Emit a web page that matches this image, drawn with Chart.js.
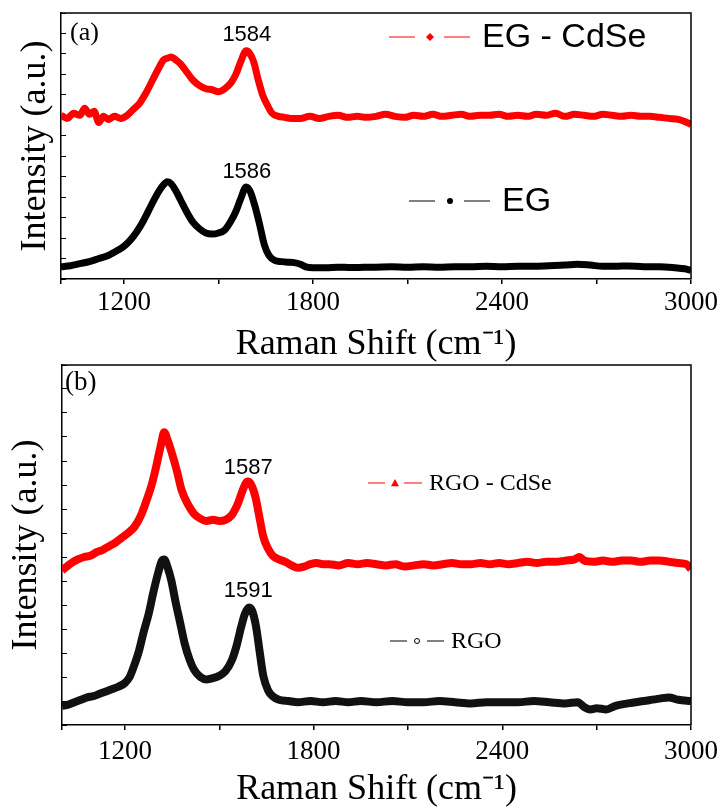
<!DOCTYPE html>
<html>
<head>
<meta charset="utf-8">
<script src="https://cdn.jsdelivr.net/npm/chart.js@4.4.0/dist/chart.umd.min.js"></script>
<style>
  html, body { margin: 0; padding: 0; background: #fff; }
  #wrap { position: relative; width: 726px; height: 808px; overflow: hidden; background: #fff; }
  #chartA { position: absolute; left: 0; top: 0; }
  #chartB { position: absolute; left: 0; top: 360px; }
</style>
</head>
<body>
<div id="wrap">
  <canvas id="chartA" width="726" height="370" style="width:726px;height:370px"></canvas>
  <canvas id="chartB" width="726" height="448" style="width:726px;height:448px"></canvas>
</div>
<script>
// x axis (Raman shift, cm-1)
var shiftTicks = [1000, 1200, 1500, 1800, 2100, 2400, 2700, 3000];
var shiftLabels = [1200, 1800, 2400, 3000];

// panel (a): EG - CdSe
var egCdseShift = [1000,1020,1040,1060,1075,1090,1105,1120,1135,1150,1170,1190,1210,1230,1250,1270,1290,1310,1325,1340,1350,1365,1380,1400,1420,1440,1460,1480,1500,1520,1540,1555,1570,1588,1598,1612,1625,1640,1655,1670,1690,1710,1730,1760,1790,1820,1850,1880,1910,1940,1970,2000,2030,2060,2090,2120,2150,2180,2210,2240,2270,2300,2330,2360,2390,2420,2450,2480,2510,2540,2570,2600,2630,2660,2690,2720,2750,2780,2810,2840,2870,2900,2930,2960,2980,3000];
var egCdseIntensity = [8.0,7.85,8.1,8.0,8.35,8.05,8.2,7.65,7.95,7.8,7.95,7.85,8.0,8.3,8.6,9.1,9.7,10.3,10.7,10.8,10.85,10.7,10.5,10.1,9.7,9.45,9.3,9.25,9.15,9.3,9.6,10.0,10.6,11.15,11.05,10.6,9.8,9.0,8.5,8.1,7.95,7.9,7.85,7.85,7.95,7.85,7.95,8.0,7.9,7.95,7.9,7.95,8.05,7.95,7.9,8.0,7.95,8.05,7.95,8.0,8.05,7.95,8.0,8.0,8.05,7.95,8.0,7.95,8.05,8.0,8.1,7.95,8.05,8.0,7.95,8.05,8.0,7.95,8.0,7.95,7.95,7.9,7.85,7.8,7.7,7.55];

// panel (a): EG
var egShift = [1000,1030,1060,1090,1120,1150,1180,1200,1220,1240,1260,1280,1300,1320,1338,1350,1365,1380,1400,1420,1440,1460,1480,1500,1520,1540,1555,1570,1588,1600,1615,1630,1645,1660,1680,1700,1720,1740,1760,1780,1800,1840,1880,1920,1960,2000,2050,2100,2150,2200,2250,2300,2350,2400,2450,2500,2550,2600,2640,2680,2720,2760,2800,2850,2900,2950,2980,3000];
var egIntensity = [0.6,0.65,0.75,0.85,1.0,1.15,1.4,1.6,1.9,2.3,2.8,3.4,4.0,4.5,4.75,4.65,4.3,3.85,3.25,2.75,2.45,2.25,2.2,2.25,2.4,2.85,3.3,3.9,4.5,4.3,3.6,2.7,1.7,1.15,0.9,0.85,0.82,0.8,0.72,0.58,0.55,0.55,0.58,0.56,0.57,0.58,0.6,0.58,0.6,0.58,0.6,0.6,0.62,0.6,0.62,0.62,0.65,0.68,0.72,0.68,0.62,0.62,0.64,0.6,0.6,0.55,0.5,0.42];

// panel (b): RGO - CdSe
var rgoCdseShift = [1000,1015,1030,1050,1070,1090,1110,1130,1150,1170,1190,1210,1230,1250,1270,1285,1300,1315,1325,1335,1350,1365,1380,1400,1420,1440,1460,1480,1500,1520,1540,1560,1575,1590,1600,1615,1630,1640,1655,1670,1690,1710,1730,1750,1770,1790,1810,1830,1850,1880,1910,1940,1970,2000,2030,2060,2090,2120,2150,2180,2210,2240,2270,2300,2330,2360,2390,2420,2450,2480,2510,2540,2570,2600,2630,2645,2660,2690,2720,2750,2780,2810,2840,2870,2900,2930,2960,2985,3000];
var rgoCdseIntensity = [6.45,6.6,6.75,6.9,7.0,7.05,7.2,7.3,7.45,7.6,7.8,8.0,8.25,8.7,9.4,10.0,10.8,11.7,12.2,11.9,11.3,10.6,9.8,9.2,8.8,8.6,8.5,8.55,8.5,8.55,8.75,9.25,9.8,10.15,10.05,9.5,8.5,7.85,7.35,7.05,6.9,6.8,6.65,6.55,6.6,6.7,6.75,6.7,6.7,6.65,6.75,6.7,6.75,6.7,6.65,6.7,6.6,6.65,6.7,6.65,6.7,6.75,6.7,6.7,6.75,6.7,6.75,6.7,6.75,6.8,6.75,6.8,6.8,6.85,6.9,7.0,6.85,6.8,6.85,6.8,6.85,6.85,6.8,6.85,6.85,6.8,6.75,6.7,6.5];

// panel (b): RGO
var rgoShift = [1000,1020,1040,1060,1080,1100,1120,1140,1160,1180,1200,1215,1230,1245,1260,1275,1290,1305,1318,1325,1335,1348,1360,1375,1390,1405,1420,1440,1460,1480,1500,1520,1540,1555,1570,1582,1595,1605,1617,1628,1640,1655,1670,1690,1720,1750,1790,1830,1870,1910,1950,2000,2050,2100,2150,2200,2250,2300,2350,2400,2450,2500,2550,2600,2640,2660,2680,2700,2730,2760,2800,2850,2900,2930,2960,3000];
var rgoIntensity = [0.8,0.85,0.95,1.05,1.15,1.2,1.3,1.4,1.5,1.6,1.75,2.0,2.5,3.1,3.9,4.6,5.5,6.3,6.85,6.9,6.6,6.0,5.2,4.3,3.4,2.75,2.3,2.0,1.9,1.95,2.05,2.25,2.7,3.3,4.1,4.65,4.9,4.75,4.1,3.1,2.05,1.45,1.2,1.05,1.0,0.95,1.0,0.95,1.0,0.95,1.0,0.95,1.0,0.95,0.95,1.0,0.95,0.9,0.95,0.95,0.95,1.0,0.95,0.9,0.95,0.75,0.65,0.7,0.65,0.8,0.9,1.0,1.1,1.15,1.05,1.0];

function toPoints(xs, ys) {
  return xs.map(function (x, i) { return { x: x, y: ys[i] }; });
}

var serif = '"Liberation Serif", "Times New Roman", serif';
var sans = '"Liberation Sans", Arial, sans-serif';

// frame, panel tag, peak labels and the hand-placed legend
var panelDecor = {
  id: 'panelDecor',
  afterDraw: function (chart, args, opts) {
    var ctx = chart.ctx, area = chart.chartArea;
    var xs = chart.scales.x, ys = chart.scales.y;
    ctx.save();
    ctx.strokeStyle = '#000';
    ctx.lineWidth = 1.5;
    ctx.beginPath();
    ctx.moveTo(area.left, area.top);
    ctx.lineTo(area.right, area.top);
    ctx.lineTo(area.right, area.bottom);
    ctx.stroke();

    ctx.fillStyle = '#000';
    ctx.textBaseline = 'middle';
    ctx.textAlign = 'left';
    ctx.font = opts.tagFont;
    ctx.fillText(opts.tag, area.left + opts.tagDx, area.top + opts.tagDy);

    ctx.font = '22px ' + sans;
    ctx.textAlign = 'center';
    opts.peaks.forEach(function (p) {
      ctx.fillText(p.text, xs.getPixelForValue(p.x), ys.getPixelForValue(p.y));
    });

    opts.legend.forEach(function (l) {
      ctx.strokeStyle = l.color;
      ctx.fillStyle = l.color;
      ctx.lineWidth = 1;
      ctx.beginPath();
      ctx.moveTo(l.x1, l.y); ctx.lineTo(l.x2, l.y);
      ctx.moveTo(l.x3, l.y); ctx.lineTo(l.x4, l.y);
      ctx.stroke();
      var m = l.mx, y = l.y, r = l.mr;
      ctx.beginPath();
      if (l.marker === 'diamond') {
        ctx.moveTo(m, y - r); ctx.lineTo(m + r, y); ctx.lineTo(m, y + r); ctx.lineTo(m - r, y);
        ctx.closePath(); ctx.fill();
      } else if (l.marker === 'triangle') {
        ctx.moveTo(m, y - r); ctx.lineTo(m + r, y + r * 0.8); ctx.lineTo(m - r, y + r * 0.8);
        ctx.closePath(); ctx.fill();
      } else if (l.marker === 'dot') {
        ctx.arc(m, y, r, 0, Math.PI * 2); ctx.fill();
      } else {
        ctx.arc(m, y, r, 0, Math.PI * 2); ctx.stroke();
      }
      ctx.fillStyle = '#000';
      ctx.font = l.font;
      ctx.textAlign = 'left';
      ctx.fillText(l.text, l.tx, y + 1);
    });
    ctx.restore();
  }
};

function makeScales(yMax, yWidth, yTitlePad, xHeight, tickPad, xTitlePad) {
  return {
    x: {
      type: 'linear', min: 1000, max: 3000,
      afterBuildTicks: function (s) { s.ticks = shiftTicks.map(function (v) { return { value: v }; }); },
      ticks: {
        autoSkip: false, maxRotation: 0, color: '#000', padding: tickPad,
        font: { family: serif, size: 27, lineHeight: 1 },
        callback: function (v) { return shiftLabels.indexOf(v) >= 0 ? String(v) : ''; }
      },
      grid: { drawOnChartArea: false, tickLength: 5, color: '#000', lineWidth: 1.5 },
      border: { display: true, color: '#000', width: 1.5 },
      title: {
        display: true, text: 'Raman Shift (cm\u207B\u00B9)', color: '#000',
        font: { family: serif, size: 36, lineHeight: 1 }, padding: { top: 0, bottom: xTitlePad }
      },
      afterFit: function (s) { s.height = xHeight; }
    },
    y: {
      min: 0, max: yMax,
      ticks: { display: false, stepSize: 1 },
      grid: { drawOnChartArea: false, tickLength: -5, color: '#000', lineWidth: 1 },
      border: { display: true, color: '#000', width: 1.5 },
      title: {
        display: true, text: 'Intensity (a.u.)', color: '#000',
        font: { family: serif, size: 36, lineHeight: 1 }, padding: { top: yTitlePad, bottom: 0 }
      },
      afterFit: function (s) { s.width = yWidth; }
    }
  };
}

var chartA = new Chart('chartA', {
  type: 'line',
  data: {
    datasets: [{
      label: 'EG - CdSe',
      data: toPoints(egCdseShift, egCdseIntensity),
      borderColor: '#ff0000', borderWidth: 7, pointRadius: 0, cubicInterpolationMode: 'monotone'
    }, {
      label: 'EG',
      data: toPoints(egShift, egIntensity),
      borderColor: '#000000', borderWidth: 7, pointRadius: 0, cubicInterpolationMode: 'monotone'
    }]
  },
  options: {
    responsive: false, animation: false,
    layout: { padding: { top: 13, right: 35, left: 0, bottom: 0 } },
    scales: makeScales(13, 61, 18, 91, 5, 7),
    plugins: {
      legend: { display: false }, tooltip: { enabled: false },
      panelDecor: {
        tag: '(a)', tagFont: '26px ' + serif, tagDx: 9, tagDy: 20,
        peaks: [{ text: '1584', x: 1590, y: 11.95 }, { text: '1586', x: 1590, y: 5.25 }],
        legend: [
          { text: 'EG - CdSe', color: '#ff0000', marker: 'diamond', mr: 4, x1: 389, x2: 415, mx: 430, x3: 444, x4: 470, tx: 482, y: 37, font: '34px ' + sans },
          { text: 'EG', color: '#000000', marker: 'dot', mr: 3, x1: 409, x2: 435, mx: 450, x3: 464, x4: 490, tx: 502, y: 201, font: '34px ' + sans }
        ]
      }
    }
  },
  plugins: [panelDecor]
});

var chartB = new Chart('chartB', {
  type: 'line',
  data: {
    datasets: [{
      label: 'RGO - CdSe',
      data: toPoints(rgoCdseShift, rgoCdseIntensity),
      borderColor: '#ff0000', borderWidth: 8, pointRadius: 0, cubicInterpolationMode: 'monotone'
    }, {
      label: 'RGO',
      data: toPoints(rgoShift, rgoIntensity),
      borderColor: '#111111', borderWidth: 8, pointRadius: 0, cubicInterpolationMode: 'monotone'
    }]
  },
  options: {
    responsive: false, animation: false,
    layout: { padding: { top: 5, right: 29, left: 0, bottom: 0 } },
    scales: makeScales(15, 62, 9, 83, 8, 0),
    plugins: {
      legend: { display: false }, tooltip: { enabled: false },
      panelDecor: {
        tag: '(b)', tagFont: '27px ' + serif, tagDx: 3, tagDy: 18,
        peaks: [{ text: '1587', x: 1592, y: 10.7 }, { text: '1591', x: 1592, y: 5.6 }],
        legend: [
          { text: 'RGO - CdSe', color: '#ff0000', marker: 'triangle', mr: 4, x1: 368, x2: 385, mx: 395, x3: 404, x4: 422, tx: 429, y: 123, font: '24px ' + serif },
          { text: 'RGO', color: '#000000', marker: 'circle', mr: 2.5, x1: 390, x2: 407, mx: 417, x3: 427, x4: 444, tx: 451, y: 281, font: '24px ' + serif }
        ]
      }
    }
  },
  plugins: [panelDecor]
});
</script>
</body>
</html>
